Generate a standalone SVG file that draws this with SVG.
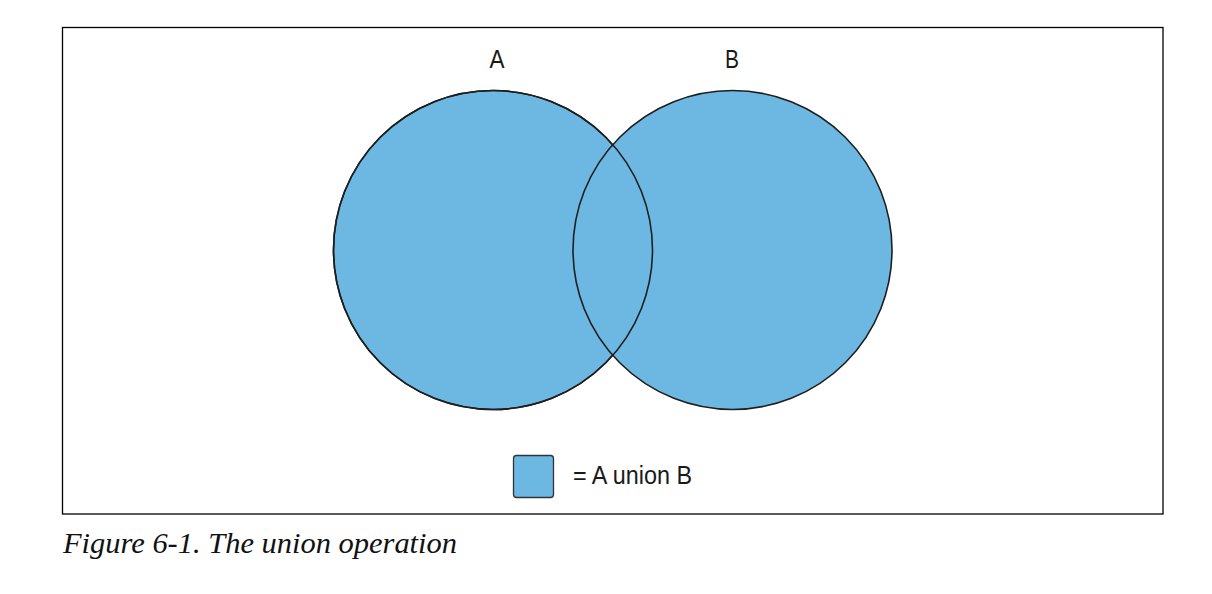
<svg xmlns="http://www.w3.org/2000/svg" width="1212" height="594" viewBox="0 0 1212 594">
<style>
.set{fill:#6db8e2;stroke:#1e1e1e;stroke-width:1.6}
.lbl{font-family:"Liberation Sans",Arial,sans-serif;font-size:26px;fill:#1a1a1a}
.cap{font-family:"Liberation Serif","Times New Roman",serif;font-style:italic;font-size:29px;fill:#111}
</style>
<rect x="62.5" y="27.5" width="1100.5" height="486.5" fill="#fff" stroke="#000" stroke-width="1.3"/>
<g id="setA"><circle class="set" cx="493" cy="250" r="159.5"/></g>
<g id="setB"><circle class="set" cx="732.5" cy="250" r="159.5"/></g>
<g id="outlines"><circle cx="493" cy="250" r="159.5" fill="none" stroke="#1e1e1e" stroke-width="1.6"/></g>
<g id="labelA"><text class="lbl" x="497" y="68" text-anchor="middle" textLength="15" lengthAdjust="spacingAndGlyphs">A</text></g>
<g id="labelB"><text class="lbl" x="732" y="68" text-anchor="middle" textLength="14" lengthAdjust="spacingAndGlyphs">B</text></g>
<g id="legend">
<rect x="513.5" y="455.5" width="40" height="42" rx="3" fill="#6db8e2" stroke="#333" stroke-width="1.3"/>
<text class="lbl" x="573" y="484" textLength="119" lengthAdjust="spacingAndGlyphs">= A union B</text>
</g>
<g id="caption"><text class="cap" x="63" y="553" textLength="394" lengthAdjust="spacingAndGlyphs">Figure 6-1. The union operation</text></g>
</svg>
